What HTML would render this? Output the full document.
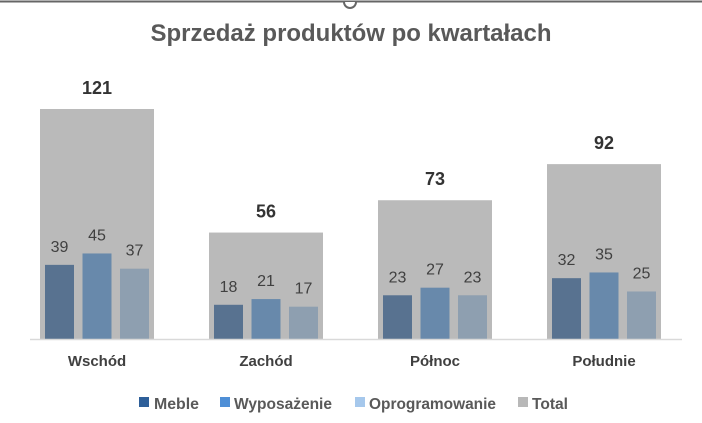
<!DOCTYPE html>
<html><head><meta charset="utf-8"><style>
body{margin:0;background:#fff;}
svg text{font-family:"Liberation Sans",sans-serif;}
</style></head><body>
<svg width="702" height="418" viewBox="0 0 702 418">
<line x1="0" y1="1.5" x2="702" y2="1.5" stroke="#666" stroke-width="2"/>
<path d="M344 2 A6 6 0 0 0 356 2" fill="#fff" stroke="#666" stroke-width="2"/>
<text x="351" y="41" text-anchor="middle" font-size="24" font-weight="bold" fill="#595959" textLength="401" lengthAdjust="spacingAndGlyphs">Sprzedaż produktów po kwartałach</text>
<g id="plot"></g>
<line x1="30" y1="339.5" x2="682" y2="339.5" stroke="#d9d9d9" stroke-width="1.5"/>
<g id="legend" font-size="16" font-weight="bold" fill="#595959">
<rect x="139" y="397" width="10" height="10" fill="#2e5f99"/>
<text x="154" y="409" textLength="45" lengthAdjust="spacingAndGlyphs">Meble</text>
<rect x="220" y="397" width="10" height="10" fill="#4f8fd6"/>
<text x="234" y="409" textLength="98" lengthAdjust="spacingAndGlyphs">Wyposażenie</text>
<rect x="355" y="397" width="10" height="10" fill="#a6c8ec"/>
<text x="369" y="409" textLength="127" lengthAdjust="spacingAndGlyphs">Oprogramowanie</text>
<rect x="518" y="397" width="10" height="10" fill="#b8b8b8"/>
<text x="532" y="409" textLength="36" lengthAdjust="spacingAndGlyphs">Total</text>
</g>
</svg>
<script>
const categories=["Wschód","Zachód","Północ","Południe"];
const meble=[39,18,23,32];
const wyposazenie=[45,21,27,35];
const oprogramowanie=[37,17,23,25];
const totals=[121,56,73,92];
const NS="http://www.w3.org/2000/svg";
const g=document.getElementById('plot');
const base=339, scale=230/121;
const y=v=>base-v*scale;
const cx=i=>97+i*169;
function mk(t,a){const e=document.createElementNS(NS,t);for(const k in a)e.setAttribute(k,a[k]);g.appendChild(e);return e;}
const series=[[meble,"#587290","meble"],[wyposazenie,"#6889ab","wyposazenie"],[oprogramowanie,"#8e9fb0","oprogramowanie"]];
categories.forEach((c,i)=>{
  const r=mk('rect',{x:cx(i)-57,y:y(totals[i]),width:114,height:base-y(totals[i]),fill:"#bababa"});
  
  
  const tt=mk('text',{x:cx(i),y:y(totals[i])-15,'text-anchor':'middle','font-size':18,'font-weight':'bold',fill:'#333'});
  tt.textContent=totals[i];
  
  
  series.forEach((s,j)=>{
    const x=cx(i)+(j-1)*37.5;
    const v=s[0][i];
    const b=mk('rect',{x:x-14.5,y:y(v),width:29,height:base-y(v),fill:s[1]});
    
    
    const t=mk('text',{x:x,y:y(v)-13,'text-anchor':'middle','font-size':16,fill:'#404040'});
    t.textContent=v;
    
    
  });
  const cl=mk('text',{x:cx(i),y:366,'text-anchor':'middle','font-size':15,'font-weight':'bold',fill:'#404040'});
  cl.textContent=c;
  
  
});
</script>
</body></html>
